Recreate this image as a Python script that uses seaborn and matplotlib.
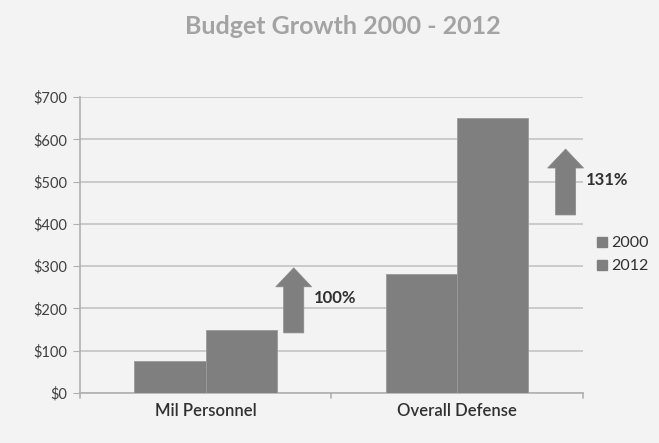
import matplotlib
matplotlib.use('Agg')
import matplotlib.pyplot as plt
from matplotlib.patches import FancyArrow
from matplotlib.lines import Line2D
import seaborn as sns
import pandas as pd

categories = ['Mil Personnel', 'Overall Defense']
years = ['2000', '2012']
budget_2000 = [75, 281]
budget_2012 = [150, 650]
# growth arrows (start, end)
arrow_bottom = [142, 421]
arrow_top = [296, 577]
arrow_offset = [0.35, 0.43]

df = pd.DataFrame({
    'category': categories * 2,
    'year': [years[0]] * 2 + [years[1]] * 2,
    'budget': budget_2000 + budget_2012,
})

sns.set_style('white')
plt.rcParams['font.family'] = ['Lato', 'DejaVu Sans']

bg = '#f3f3f3'
bar_col = '#7f7f7f'
fig = plt.figure(figsize=(6.59, 4.43), dpi=100, facecolor=bg)
ax = fig.add_axes([0.121, 0.113, 0.764, 0.668])
ax.set_facecolor(bg)

sns.barplot(data=df, x='category', y='budget', hue='year',
            palette=[bar_col, bar_col], width=0.565, ax=ax,
            edgecolor='#9a9a9a', linewidth=0.6, legend=False, zorder=3)

ax.set_ylim(0, 700)
ax.set_xlim(-0.5, 1.5)
ax.set_yticks(range(0, 701, 100))
ax.set_yticklabels([f'${v}' for v in range(0, 701, 100)],
                   fontsize=10.5, color='#404040')
ax.set_xticks([0, 1])
ax.set_xticklabels(categories, fontsize=12, color='#303030', fontweight='semibold')
ax.yaxis.grid(True, color='#c4c4c4', linewidth=1.2, zorder=0)
ax.set_axisbelow(True)
ax.set_xlabel('')
ax.set_ylabel('')
for s in ['top', 'right']:
    ax.spines[s].set_visible(False)
for s in ['left', 'bottom']:
    ax.spines[s].set_color('#b0b0b0')
    ax.spines[s].set_linewidth(1.2)
ax.tick_params(axis='y', length=5, color='#b0b0b0', pad=4, left=True)
ax.tick_params(axis='x', length=0, pad=7)
# category boundary ticks
for xb in [-0.5, 0.5, 1.5]:
    ax.plot([xb, xb], [0, -12], color='#b0b0b0', lw=1.2, clip_on=False, zorder=4)

for i in range(len(categories)):
    x = i + arrow_offset[i]
    ax.add_patch(FancyArrow(x, arrow_bottom[i], 0, arrow_top[i] - arrow_bottom[i],
                            width=0.08, head_width=0.143, head_length=45,
                            length_includes_head=True, color=bar_col,
                            ec='#8c8c8c', lw=0.5, zorder=4, clip_on=False))
    pct = (budget_2012[i] - budget_2000[i]) / budget_2000[i] * 100
    ax.text(x + 0.08, (arrow_bottom[i] + arrow_top[i]) / 2 + 5, f'{pct:.0f}%',
            fontsize=12, fontweight='bold', color='#303030', va='center',
            clip_on=False)

handles = [Line2D([], [], marker='s', linestyle='', markersize=7,
                  color=bar_col) for _ in years]
fig.legend(handles, years, loc='center left', bbox_to_anchor=(0.885, 0.425),
           frameon=False, fontsize=11.5, handletextpad=0.05, labelspacing=0.55,
           handlelength=1.0, borderpad=0.2, labelcolor='#303030')

fig.text(0.52, 0.94, 'Budget Growth 2000 - 2012', ha='center', va='center',
         fontsize=18, fontweight='bold', color='#a3a3a3')

fig.savefig('out.png', dpi=100, facecolor=bg)
